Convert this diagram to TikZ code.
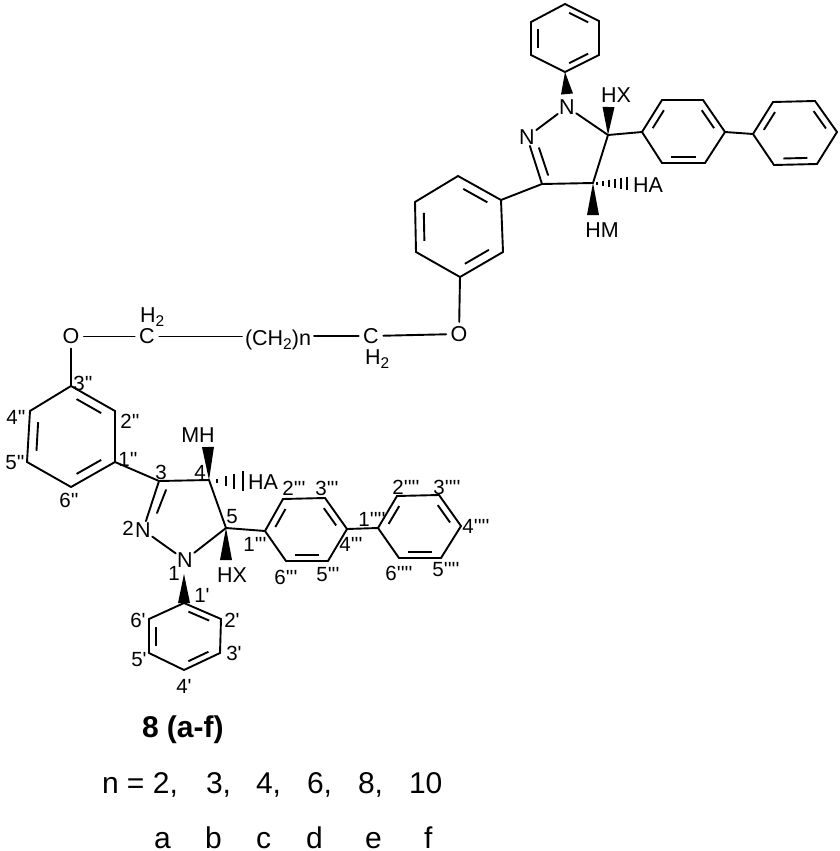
\documentclass[tikz,border=0pt]{standalone}
\usepackage{fontspec}
\usetikzlibrary{calc}
\setmainfont{Liberation Sans}
\newfontfamily\lab{Liberation Sans}
\newcommand{\subtwo}{\raisebox{-4pt}{\fontsize{15.5}{15.5}\selectfont 2}}
\tikzset{
  bond/.style={line width=1.9pt,line cap=round,line join=miter,black},
  atomlabel/.style={inner sep=1.5pt,outer sep=0pt,font=\lab\fontsize{21.5}{21.5}\selectfont,text=black},
  linklabel/.style={atomlabel,inner sep=4.5pt},
  poslabel/.style={inner sep=0pt,outer sep=0pt,font=\lab\fontsize{20.5}{20.5}\selectfont,text=black},
  bottomtext/.style={anchor=base west,inner sep=0pt,outer sep=0pt,font=\lab\fontsize{30}{30}\selectfont,text=black},
  captiontext/.style={anchor=base west,inner sep=0pt,outer sep=0pt,font=\lab\bfseries\fontsize{30}{30}\selectfont,text=black},
}
\newcommand{\ringpts}[7]{%
  \coordinate (#1a) at #2; \coordinate (#1b) at #3; \coordinate (#1c) at #4;
  \coordinate (#1d) at #5; \coordinate (#1e) at #6; \coordinate (#1f) at #7;
  \coordinate (#1o) at ($(#1a)!.5!(#1d)$);
  \draw[bond,line cap=butt] (#1a)--(#1b)--(#1c)--(#1d)--(#1e)--(#1f)--cycle;}
\newcommand{\inbond}[3]{\draw[bond,line cap=butt] ($($(#1#2)!.15!(#1#3)$)!.2!(#1o)$) -- ($($(#1#2)!.85!(#1#3)$)!.2!(#1o)$);}
\newcommand{\wedgebond}[2]{\fill[black] (#1) -- ($(#2)!6pt!90:(#1)$) -- ($(#2)!6pt!-90:(#1)$) -- cycle;}
\begin{document}
\begin{tikzpicture}[x=1pt,y=-1pt]
\useasboundingbox (0,0) rectangle (840,851);
% ---------- upper molecule ----------
\ringpts{P}{(565,4)}{(599,21)}{(599,55)}{(565,72)}{(531,55)}{(531,22)}
\inbond{P}{a}{b}\inbond{P}{c}{d}\inbond{P}{e}{f}
\ringpts{A}{(642,132)}{(662,100)}{(703,100)}{(725,132)}{(705,163)}{(662,163)}
\inbond{A}{a}{b}\inbond{A}{c}{d}\inbond{A}{e}{f}
\ringpts{B}{(753,134)}{(773,102)}{(815,101)}{(837,132)}{(817,164)}{(774,165)}
\inbond{B}{a}{b}\inbond{B}{c}{d}\inbond{B}{e}{f}
\ringpts{M}{(501,200)}{(458,176)}{(415,202)}{(416,252)}{(460,277)}{(503,252)}
\inbond{M}{a}{b}\inbond{M}{c}{d}\inbond{M}{e}{f}
\node[atomlabel] (tN1) at (567,107) {N};
\node[atomlabel] (tN2) at (527,137) {N};
\coordinate (tC5) at (608,135);
\coordinate (tC4) at (593,183);
\coordinate (tC3) at (542,184);
\coordinate (tIn1) at (548,175);
\coordinate (tIn2) at (539,148);
\draw[bond] (tN1) -- (tN2);
\draw[bond] (tN1) -- (tC5);
\draw[bond] (tC5) -- (tC4);
\draw[bond] (tC4) -- (tC3);
\draw[bond] (tC3) -- (tN2);
\draw[bond] (tIn1) -- (tIn2);
\draw[bond] (tC5) -- (Aa);
\draw[bond] (Ad) -- (Ba);
\draw[bond] (tC3) -- (Ma);
\coordinate (tPw) at (567,94);
\wedgebond{Pd}{tPw}
\coordinate (tXw) at (608.5,107);
\wedgebond{tC5}{tXw}
\coordinate (tMw) at (593,215);
\wedgebond{tC4}{tMw}
\foreach \i/\h in {0/1.5,1/2.5,2/3.5,3/4.5,4/5.5,5/6.5}
  \draw[line width=1.4pt] (597+\i*6,183-\h) -- (597+\i*6,183+\h);
\node[atomlabel] (tHX) at (616,95) {HX};
\node[atomlabel] (tHA) at (648,185) {HA};
\node[atomlabel] (tHM) at (602,230) {HM};
\node[linklabel] (tO) at (459,334) {O};
\draw[bond] (Me) -- (tO);
% ---------- linker ----------
\node[linklabel] (cR) at (371,336) {C};
\node[atomlabel,anchor=base west,inner sep=0pt] (hR) at (365,364) {H\subtwo};
\node[atomlabel,anchor=base,inner sep=3pt] (chain) at (278,345) {(CH\subtwo)n};
\node[linklabel] (cL) at (147,336.5) {C};
\node[atomlabel,anchor=base west,inner sep=0pt] (hL) at (140,322) {H\subtwo};
\node[linklabel] (lO) at (71,336.5) {O};
\draw[bond] (tO) -- (cR);
\draw[bond] (cR.west) -- (chain.east |- cR.west);
\draw[bond] (chain.west |- cL.east) -- (cL.east);
\draw[bond] (cL.west) -- (lO.east);
% ---------- lower molecule ----------
\ringpts{L}{(115,462)}{(115,411)}{(71,386)}{(30,411)}{(27,462)}{(71,487)}
\inbond{L}{b}{c}\inbond{L}{d}{e}\inbond{L}{f}{a}
\ringpts{C}{(265,531)}{(283,499)}{(325,498)}{(347,529)}{(328,561)}{(286,561)}
\inbond{C}{a}{b}\inbond{C}{c}{d}\inbond{C}{e}{f}
\ringpts{D}{(378,528)}{(397,496)}{(439,495)}{(461,526)}{(441,558)}{(399,558)}
\inbond{D}{a}{b}\inbond{D}{c}{d}\inbond{D}{e}{f}
\ringpts{F}{(184,603)}{(221,619)}{(220,653)}{(184,670)}{(149,653)}{(149,619)}
\inbond{F}{a}{b}\inbond{F}{c}{d}\inbond{F}{e}{f}
\draw[bond] (lO) -- (Lc);
\node[atomlabel] (bN2) at (143,530) {N};
\node[atomlabel] (bN1) at (185,560) {N};
\coordinate (bC3) at (159,481);
\coordinate (bC4) at (209,480);
\coordinate (bC5) at (226,528);
\coordinate (bIn1) at (166,490);
\coordinate (bIn2) at (157,513);
\draw[bond] (bC3) -- (bN2);
\draw[bond] (bIn1) -- (bIn2);
\draw[bond] (bN2) -- (bN1);
\draw[bond] (bN1) -- (bC5);
\draw[bond] (bC5) -- (bC4);
\draw[bond] (bC4) -- (bC3);
\draw[bond] (bC3) -- (La);
\draw[bond] (bC5) -- (Ca);
\draw[bond] (Cd) -- (Da);
\coordinate (bMw) at (208,447);
\wedgebond{bC4}{bMw}
\coordinate (bXw) at (226,560);
\wedgebond{bC5}{bXw}
\coordinate (bNt) at (184,574);
\wedgebond{bNt}{Fa}
\foreach \x/\h in {217/2,226/5,234/7.5,243/10}
  \draw[line width=1.6pt] (\x,481-\h) -- (\x,481+\h);
\node[atomlabel] (bMH) at (198,435) {MH};
\node[atomlabel] (bHA) at (263,482) {HA};
\node[atomlabel] (bHX) at (232,575) {HX};
% ---------- position labels ----------
\node[poslabel] (p1) at (83,383) {3''};
\node[poslabel] (p2) at (16,417) {4''};
\node[poslabel] (p3) at (130,421) {2''};
\node[poslabel] (p4) at (15,463) {5''};
\node[poslabel] (p5) at (128,459) {1''};
\node[poslabel] (p6) at (69,500) {6''};
\node[poslabel] (p7) at (161,472) {3};
\node[poslabel] (p8) at (200,472) {4};
\node[poslabel] (p9) at (232,517) {5};
\node[poslabel] (p10) at (128,528) {2};
\node[poslabel] (p11) at (174,573) {1};
\node[poslabel] (p12) at (202,595) {1'};
\node[poslabel] (p13) at (255,544) {1'''};
\node[poslabel] (p14) at (286,577) {6'''};
\node[poslabel] (p15) at (294,488) {2'''};
\node[poslabel] (p16) at (327,488) {3'''};
\node[poslabel] (p17) at (372,519) {1''''};
\node[poslabel] (p18) at (351,544) {4'''};
\node[poslabel] (p19) at (328,575) {5'''};
\node[poslabel] (p20) at (406,487) {2''''};
\node[poslabel] (p21) at (447,487) {3''''};
\node[poslabel] (p22) at (476,526) {4''''};
\node[poslabel] (p23) at (446,570) {5''''};
\node[poslabel] (p24) at (399,573) {6''''};
\node[poslabel] (p25) at (232,620) {2'};
\node[poslabel] (p26) at (234,653) {3'};
\node[poslabel] (p27) at (184,686) {4'};
\node[poslabel] (p28) at (139,660) {5'};
\node[poslabel] (p29) at (138,620) {6'};
% ---------- caption ----------
\node[captiontext] (cap) at (142,737) {8 (a-f)};
\node[bottomtext] (n0) at (102,793) {n = 2,};
\node[bottomtext] (n1) at (206,793) {3,};
\node[bottomtext] (n2) at (256,793) {4,};
\node[bottomtext] (n3) at (307,793) {6,};
\node[bottomtext] (n4) at (358,793) {8,};
\node[bottomtext] (n5) at (409,793) {10};
\node[bottomtext] (l0) at (154,848) {a};
\node[bottomtext] (l1) at (205,848) {b};
\node[bottomtext] (l2) at (256,848) {c};
\node[bottomtext] (l3) at (306,848) {d};
\node[bottomtext] (l4) at (365,848) {e};
\node[bottomtext] (l5) at (424,848) {f};
\end{tikzpicture}
\end{document}
